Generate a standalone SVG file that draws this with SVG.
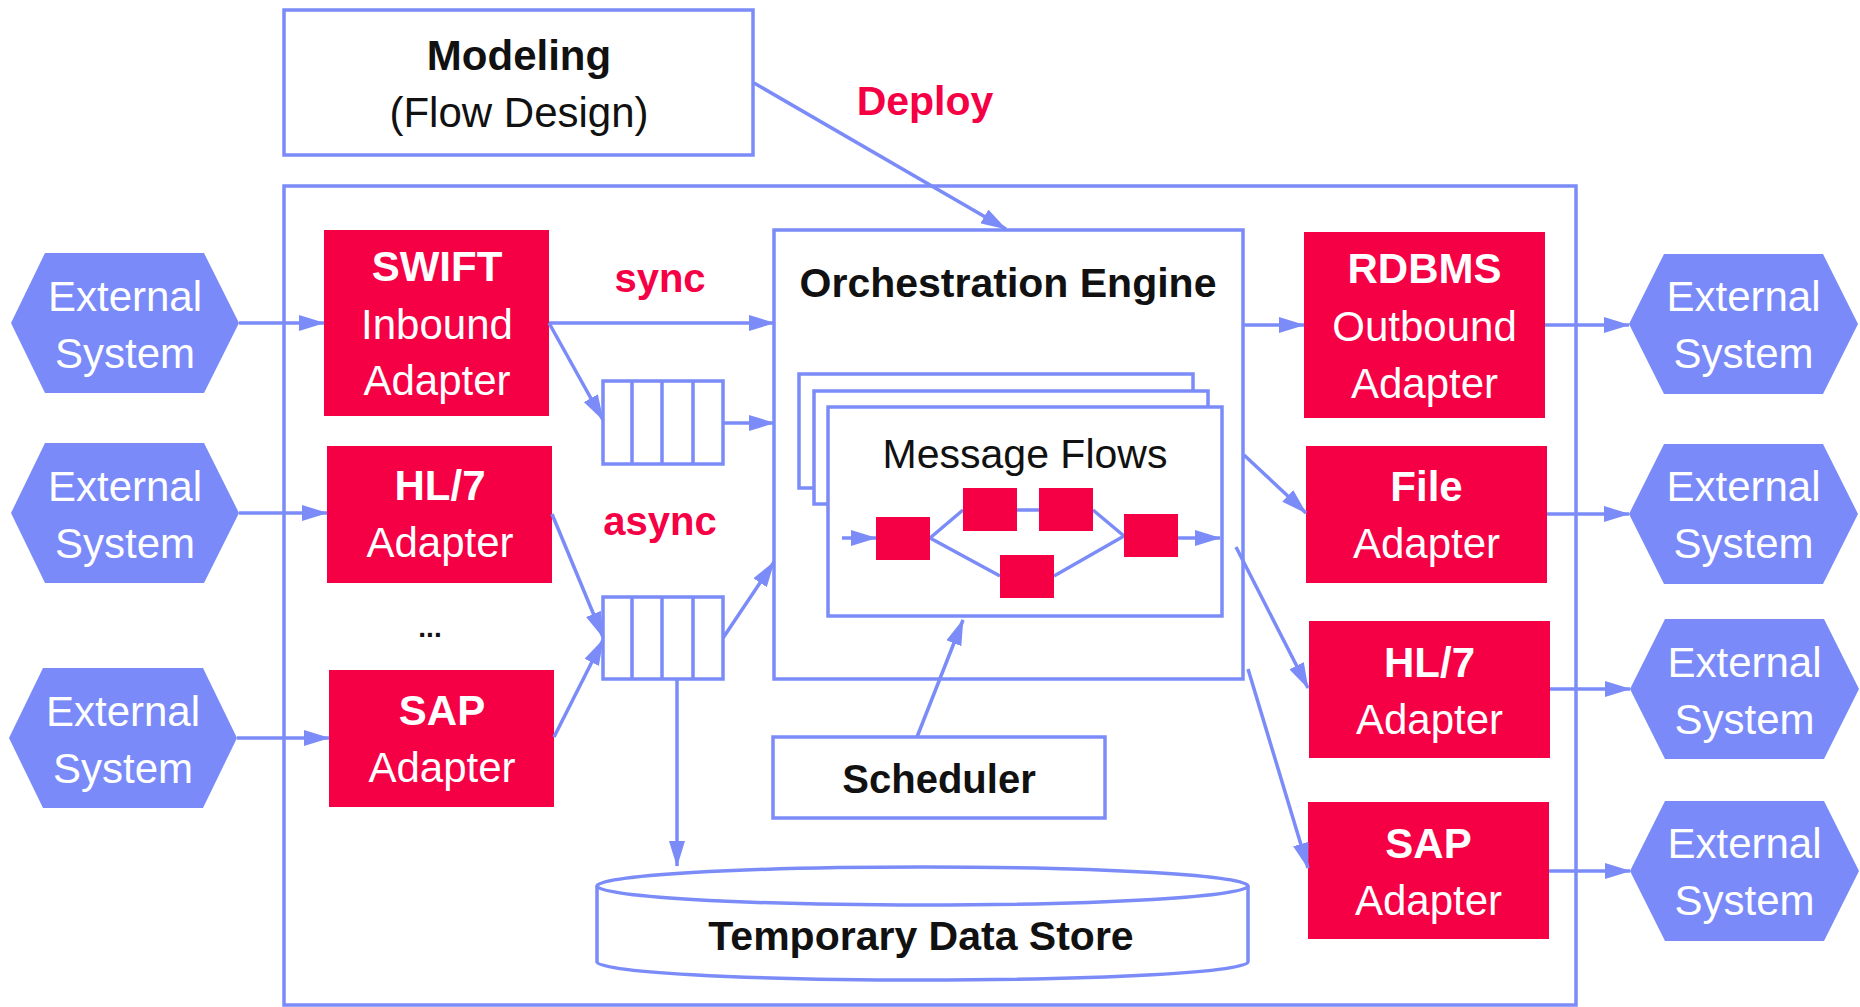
<svg xmlns="http://www.w3.org/2000/svg" width="1860" height="1007" viewBox="0 0 1860 1007">
<style>
.box{fill:#fff;stroke:#7B8CF9;stroke-width:3.5}
.red{fill:#F50045}
.hex{fill:#7A8BF9}
.ln{stroke:#7B8CF9;stroke-width:3.5;fill:none}
.arr{stroke:#7B8CF9;stroke-width:3.5;fill:none;marker-end:url(#ah)}
text{font-family:"Liberation Sans",Arial,sans-serif;text-anchor:middle}
.w{fill:#fff;font-size:42px}
.b{font-weight:bold}
.k{fill:#111}
.r{fill:#F50045;font-weight:bold}
</style>
<defs>
<marker id="ah" markerUnits="userSpaceOnUse" markerWidth="26" markerHeight="16" refX="25" refY="8" orient="auto">
<path d="M0,0 L26,8 L0,16 z" fill="#7B8CF9"/>
</marker>
</defs>

<g id="platform">
<rect class="box" x="284" y="186" width="1292" height="819" stroke-width="3"/>
</g>

<g id="modeling">
<rect class="box" x="284" y="10" width="469" height="145"/>
<text class="k b" x="519" y="70" font-size="42">Modeling</text>
<text class="k" x="519" y="127" font-size="42">(Flow Design)</text>
</g>

<g id="ext-left-1">
<polygon class="hex" points="11,323 45,253 204,253 239,323 204,393 45,393"/>
<text class="w" x="125" y="311">External</text><text class="w" x="125" y="368">System</text>
</g>
<g id="ext-left-2">
<polygon class="hex" points="11,513 45,443 204,443 239,513 204,583 45,583"/>
<text class="w" x="125" y="501">External</text><text class="w" x="125" y="558">System</text>
</g>
<g id="ext-left-3">
<polygon class="hex" points="9,738 43,668 203,668 237,738 203,808 43,808"/>
<text class="w" x="123" y="726">External</text><text class="w" x="123" y="783">System</text>
</g>

<g id="swift-adapter">
<rect class="red" x="324" y="230" width="225" height="186"/>
<text class="w b" x="437" y="281">SWIFT</text>
<text class="w" x="437" y="339">Inbound</text>
<text class="w" x="437" y="395">Adapter</text>
</g>
<g id="hl7-in-adapter">
<rect class="red" x="327" y="446" width="225" height="137"/>
<text class="w b" x="440" y="500">HL/7</text>
<text class="w" x="440" y="557">Adapter</text>
</g>
<text class="k b" x="430" y="637" font-size="28">...</text>
<g id="sap-in-adapter">
<rect class="red" x="329" y="670" width="225" height="137"/>
<text class="w b" x="442" y="725">SAP</text>
<text class="w" x="442" y="782">Adapter</text>
</g>

<g id="queue-sync">
<rect class="box" x="603" y="381" width="120" height="83"/>
<path class="ln" d="M632,381V464M662,381V464M693,381V464"/>
</g>
<g id="queue-async">
<rect class="box" x="603" y="597" width="120" height="82"/>
<path class="ln" d="M632,597V679M662,597V679M693,597V679"/>
</g>
<text class="r" x="660" y="292" font-size="40">sync</text>
<text class="r" x="660" y="535" font-size="40">async</text>
<text class="r" x="925" y="115" font-size="41">Deploy</text>

<g id="orchestration-engine">
<rect class="box" x="774" y="230" width="469" height="449"/>
<text class="k b" x="1008" y="297" font-size="41">Orchestration Engine</text>
</g>

<g id="message-flows">
<rect class="box" x="799" y="374" width="394" height="114"/>
<rect class="box" x="814" y="391" width="394" height="113"/>
<rect class="box" x="828" y="407" width="394" height="209"/>
<text class="k" x="1025" y="468" font-size="41">Message Flows</text>
<path class="ln" d="M930,538L963,510M1017,510H1039M1093,510L1124,536M930,538L1000,576M1054,576L1124,536"/>
<path class="arr" d="M842,538H876"/>
<path class="arr" d="M1178,538H1220"/>
<rect class="red" x="876" y="517" width="54" height="43"/>
<rect class="red" x="963" y="488" width="54" height="43"/>
<rect class="red" x="1039" y="488" width="54" height="43"/>
<rect class="red" x="1000" y="555" width="54" height="43"/>
<rect class="red" x="1124" y="514" width="54" height="43"/>
</g>

<g id="scheduler">
<rect class="box" x="773" y="737" width="332" height="81"/>
<text class="k b" x="939" y="793" font-size="40">Scheduler</text>
</g>

<g id="temporary-data-store">
<path class="box" d="M597,886 V962 A325.5,18 0 0 0 1248,962 V886"/>
<ellipse class="box" cx="922.5" cy="886" rx="325.5" ry="19"/>
<text class="k b" x="921" y="950" font-size="41">Temporary Data Store</text>
</g>

<g id="rdbms-adapter">
<rect class="red" x="1304" y="232" width="241" height="186"/>
<text class="w b" x="1424.5" y="283">RDBMS</text>
<text class="w" x="1424.5" y="341">Outbound</text>
<text class="w" x="1424.5" y="398">Adapter</text>
</g>
<g id="file-adapter">
<rect class="red" x="1306" y="446" width="241" height="137"/>
<text class="w b" x="1426.5" y="501">File</text>
<text class="w" x="1426.5" y="558">Adapter</text>
</g>
<g id="hl7-out-adapter">
<rect class="red" x="1309" y="621" width="241" height="137"/>
<text class="w b" x="1429.5" y="677">HL/7</text>
<text class="w" x="1429.5" y="734">Adapter</text>
</g>
<g id="sap-out-adapter">
<rect class="red" x="1308" y="802" width="241" height="137"/>
<text class="w b" x="1428.5" y="858">SAP</text>
<text class="w" x="1428.5" y="915">Adapter</text>
</g>

<g id="ext-right-1">
<polygon class="hex" points="1629,324 1664,254 1823,254 1858,324 1823,394 1664,394"/>
<text class="w" x="1743.5" y="311">External</text><text class="w" x="1743.5" y="368">System</text>
</g>
<g id="ext-right-2">
<polygon class="hex" points="1629,514 1664,444 1823,444 1858,514 1823,584 1664,584"/>
<text class="w" x="1743.5" y="501">External</text><text class="w" x="1743.5" y="558">System</text>
</g>
<g id="ext-right-3">
<polygon class="hex" points="1630,689 1665,619 1824,619 1859,689 1824,759 1665,759"/>
<text class="w" x="1744.5" y="677">External</text><text class="w" x="1744.5" y="734">System</text>
</g>
<g id="ext-right-4">
<polygon class="hex" points="1630,871 1665,801 1824,801 1859,871 1824,941 1665,941"/>
<text class="w" x="1744.5" y="858">External</text><text class="w" x="1744.5" y="915">System</text>
</g>

<g id="connectors">
<path class="arr" d="M239,323H324"/>
<path class="arr" d="M239,513H327"/>
<path class="arr" d="M237,738H329"/>
<path class="arr" d="M549,323H774"/>
<path class="arr" d="M549,323L603,420"/>
<path class="arr" d="M723,423H774"/>
<path class="arr" d="M552,514L603,637"/>
<path class="arr" d="M554,737L603,640"/>
<path class="arr" d="M723,638L774,562"/>
<path class="arr" d="M677,679V866"/>
<path class="arr" d="M917,737L963,620"/>
<path class="arr" d="M754,83L1006,229"/>
<path class="arr" d="M1243,325H1304"/>
<path class="arr" d="M1244,455L1306,513"/>
<path class="arr" d="M1236,547L1308,688"/>
<path class="arr" d="M1248,669L1308,868"/>
<path class="arr" d="M1545,325H1629"/>
<path class="arr" d="M1547,514H1629"/>
<path class="arr" d="M1550,689H1630"/>
<path class="arr" d="M1549,871H1630"/>
</g>
</svg>
